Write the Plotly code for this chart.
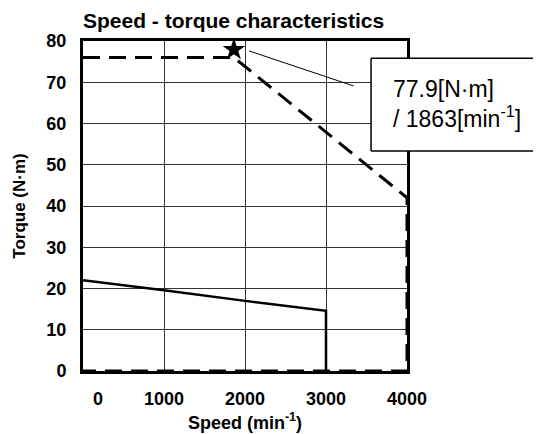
import plotly.graph_objects as go

# continuous duty zone (solid)
speed_cont = [0, 1000, 2000, 3000, 3000]
torque_cont = [22, 19.6, 17.0, 14.6, 0]

# short-time duty zone (dashed)
speed_int = [0, 1863, 4000, 4000, 0]
torque_int = [76, 76, 42, 0, 0]

# peak point
peak_speed = [1863]
peak_torque = [77.9]

# leader line to the callout box
leader_speed = [2050, 3340]
leader_torque = [77.6, 69.1]

x_ticks = [0, 1000, 2000, 3000, 4000]
x_ticktext = ['\u00a0\u00a0\u00a0\u00a0\u00a0\u00a00', '1000', '2000', '3000', '4000']
y_ticks = [0, 10, 20, 30, 40, 50, 60, 70, 80]

callout_text = '77.9[N·m]<br>/ 1863[min<sup>-1</sup>]'

font_family = 'Liberation Sans, Arial, sans-serif'

fig = go.Figure()
fig.add_trace(go.Scatter(x=speed_cont, y=torque_cont, mode='lines',
                         line=dict(color='black', width=2.5), showlegend=False))
fig.add_trace(go.Scatter(x=speed_int, y=torque_int, mode='lines',
                         line=dict(color='black', width=3, dash='17px,9px'), showlegend=False))
fig.add_trace(go.Scatter(x=leader_speed, y=leader_torque, mode='lines',
                         line=dict(color='black', width=1), showlegend=False))
fig.add_trace(go.Scatter(x=peak_speed, y=peak_torque, mode='markers',
                         marker=dict(symbol='star', size=17, color='black'),
                         cliponaxis=False, showlegend=False))

# callout box: white fill over the plot border, open on the right (runs off the page)
fig.add_shape(type='rect', xref='paper', yref='paper', x0=0.889, x1=1.45, y0=0.667, y1=0.948,
              fillcolor='white', line=dict(width=0), layer='above')
box = dict(xref='paper', yref='paper', line=dict(color='black', width=1.5), layer='above')
fig.add_shape(type='line', x0=0.889, x1=1.45, y0=0.948, y1=0.948, **box)
fig.add_shape(type='line', x0=0.889, x1=1.45, y0=0.667, y1=0.667, **box)
fig.add_shape(type='line', x0=0.889, x1=0.889, y0=0.667, y1=0.948, **box)
fig.add_annotation(text=callout_text, xref='paper', yref='paper',
                   x=0.951, y=0.81, xanchor='left', yanchor='middle',
                   align='left', showarrow=False,
                   font=dict(family=font_family, size=23, color='black'))

fig.update_layout(
    width=533, height=426,
    margin=dict(l=75, r=134, t=33, b=63),
    plot_bgcolor='white', paper_bgcolor='white',
    font=dict(family=font_family, color='black'),
    title=dict(text='Speed - torque characteristics', x=75/533, xanchor='left',
               y=1-13/426, yanchor='middle',
               font=dict(size=21, weight='bold', color='black')),
)
fig.update_xaxes(range=[0, 4000], tickvals=x_ticks, ticktext=x_ticktext,
                 showgrid=True, gridcolor='#333', gridwidth=1,
                 showline=True, linecolor='black', linewidth=3, mirror=True,
                 ticks='', ticklabelstandoff=9, zeroline=False, automargin=False,
                 tickfont=dict(size=18, weight='bold'),
                 title=dict(text='Speed (min<sup>-1</sup>)', standoff=9,
                            font=dict(size=18, weight='bold')))
fig.update_yaxes(range=[0, 80], tickvals=y_ticks,
                 showgrid=True, gridcolor='#333', gridwidth=1,
                 showline=True, linecolor='black', linewidth=3, mirror=True,
                 ticks='', ticklabelstandoff=10, zeroline=False, automargin=False,
                 tickfont=dict(size=18, weight='bold'),
                 title=dict(text='Torque (N·m)', standoff=17,
                            font=dict(size=17, weight='bold')))

fig.write_html('out.html')
